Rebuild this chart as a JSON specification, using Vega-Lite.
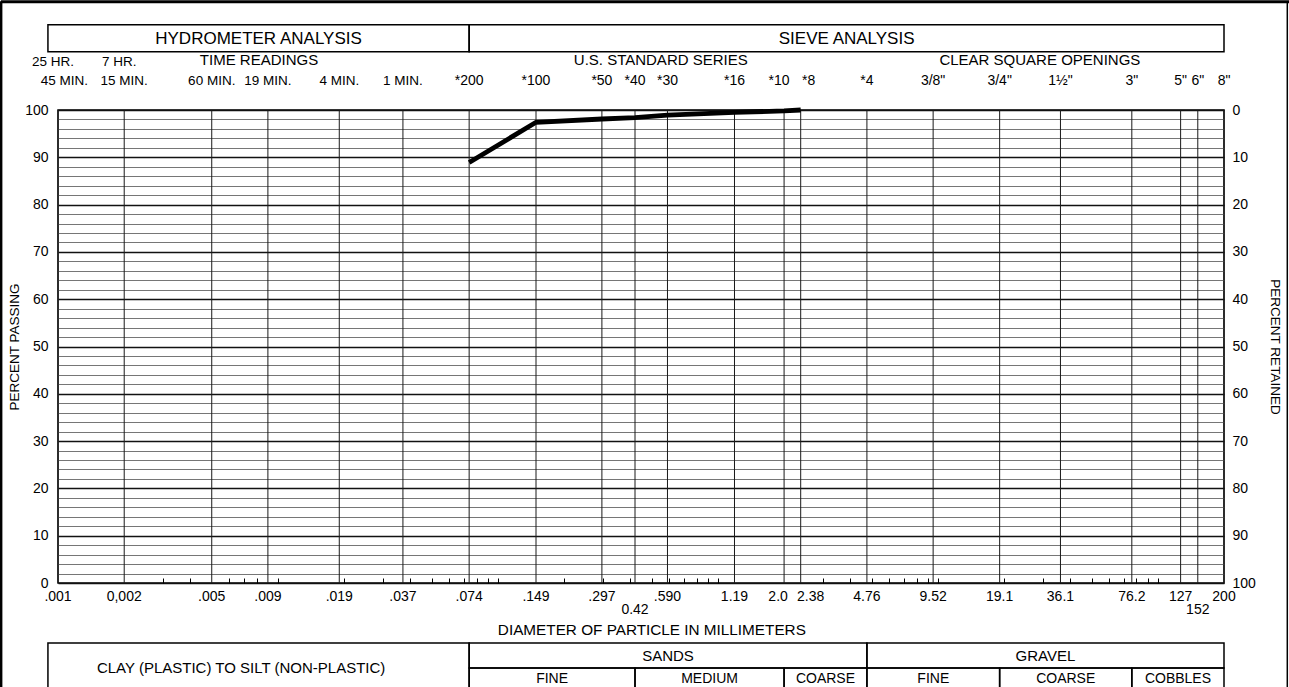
{
  "$schema": "https://vega.github.io/schema/vega-lite/v6.json",
  "width": 1166,
  "height": 473,
  "autosize": "none",
  "padding": {"left": 58, "top": 110, "right": 65, "bottom": 104},
  "background": "white",
  "config": {
    "view": {"stroke": "black", "strokeWidth": 1.5},
    "font": "Liberation Sans",
    "text": {"font": "Liberation Sans", "fontSize": 13, "color": "black", "baseline": "middle", "align": "center"}
  },
  "datasets": {
    "curve": [
      {"d": 0.074, "pct": 88.9},
      {"d": 0.149, "pct": 97.4},
      {"d": 0.297, "pct": 98.1},
      {"d": 0.42, "pct": 98.4},
      {"d": 0.59, "pct": 98.9},
      {"d": 1.19, "pct": 99.5},
      {"d": 2.0, "pct": 99.8},
      {"d": 2.38, "pct": 100}
    ],
    "sizes": [
      {"d": 0.001, "label": ".001"},
      {"d": 0.002, "label": "0,002"},
      {"d": 0.005, "label": ".005"},
      {"d": 0.009, "label": ".009"},
      {"d": 0.019, "label": ".019"},
      {"d": 0.037, "label": ".037"},
      {"d": 0.074, "label": ".074"},
      {"d": 0.149, "label": ".149"},
      {"d": 0.297, "label": ".297"},
      {"d": 0.42, "label": "0.42"},
      {"d": 0.59, "label": ".590"},
      {"d": 1.19, "label": "1.19"},
      {"d": 2.0, "label": "2.0"},
      {"d": 2.38, "label": "2.38"},
      {"d": 4.76, "label": "4.76"},
      {"d": 9.52, "label": "9.52"},
      {"d": 19.1, "label": "19.1"},
      {"d": 36.1, "label": "36.1"},
      {"d": 76.2, "label": "76.2"},
      {"d": 127, "label": "127"},
      {"d": 152, "label": "152"},
      {"d": 200, "label": "200"}
    ],
    "sieves": [
      {"d": 0.074, "label": "*200"},
      {"d": 0.149, "label": "*100"},
      {"d": 0.297, "label": "*50"},
      {"d": 0.42, "label": "*40"},
      {"d": 0.59, "label": "*30"},
      {"d": 1.19, "label": "*16"},
      {"d": 2.0, "label": "*10"},
      {"d": 2.38, "label": "*8"},
      {"d": 4.76, "label": "*4"},
      {"d": 9.52, "label": "3/8\""},
      {"d": 19.1, "label": "3/4\""},
      {"d": 36.1, "label": "1½\""},
      {"d": 76.2, "label": "3\""},
      {"d": 127, "label": "5\""},
      {"d": 152, "label": "6\""},
      {"d": 200, "label": "8\""}
    ],
    "times1": [
      {"d": 0.001, "label": "25 HR."},
      {"d": 0.002, "label": "7 HR."}
    ],
    "times2": [
      {"d": 0.00107, "label": "45 MIN."},
      {"d": 0.002, "label": "15 MIN."},
      {"d": 0.005, "label": "60 MIN."},
      {"d": 0.009, "label": "19 MIN."},
      {"d": 0.019, "label": "4 MIN."},
      {"d": 0.037, "label": "1 MIN."}
    ],
    "series": [
      {"mid": 0.0082, "label": "TIME READINGS"},
      {"mid": 0.55, "label": "U.S. STANDARD SERIES"},
      {"mid": 29.1, "label": "CLEAR SQUARE OPENINGS"}
    ],
    "header": [
      {"lo": 0.0009, "hi": 0.074, "mid": 0.00816, "label": "HYDROMETER ANALYSIS"},
      {"lo": 0.074, "hi": 200, "mid": 3.85, "label": "SIEVE ANALYSIS"}
    ],
    "silt": [
      {"lo": 0.0009, "hi": 0.074, "mid": 0.0068, "label": "CLAY (PLASTIC) TO SILT (NON-PLASTIC)"}
    ],
    "groups": [
      {"lo": 0.074, "hi": 4.76, "mid": 0.5935, "label": "SANDS"},
      {"lo": 4.76, "hi": 200, "mid": 30.85, "label": "GRAVEL"}
    ],
    "subgroups": [
      {"lo": 0.074, "hi": 0.42, "mid": 0.1763, "label": "FINE"},
      {"lo": 0.42, "hi": 2.0, "mid": 0.9165, "label": "MEDIUM"},
      {"lo": 2.0, "hi": 4.76, "mid": 3.085, "label": "COARSE"},
      {"lo": 4.76, "hi": 19.1, "mid": 9.535, "label": "FINE"},
      {"lo": 19.1, "hi": 76.2, "mid": 38.15, "label": "COARSE"},
      {"lo": 76.2, "hi": 200, "mid": 123.5, "label": "COBBLES"}
    ],
    "xtitle": [
      {"mid": 0.501, "label": "DIAMETER OF PARTICLE IN MILLIMETERS"}
    ]
  },
  "layer": [
    {
      "resolve": {"axis": {"x": "independent", "y": "independent"}},
      "layer": [
        {
          "data": {"name": "sizes"},
          "mark": {"type": "rule", "color": "#1a1a1a", "strokeWidth": 1},
          "encoding": {
            "x": {"field": "d", "type": "quantitative", "scale": {"type": "log", "domain": [0.001, 200], "nice": false},
              "axis": {"values": [0.003,0.004,0.006,0.007,0.008,0.01,0.02,0.03,0.04,0.05,0.06,0.07,0.08,0.09,0.1,0.2,0.3,0.4,0.5,0.6,0.7,0.8,0.9,1,3,4,5,6,7,8,9,10,20,30,40,50,60,70,80,90,100],
                "labels": false, "domain": false, "grid": false, "ticks": true, "tickSize": 5, "tickColor": "black", "tickWidth": 1, "offset": -5, "title": null}},
            "y": {"datum": 0, "type": "quantitative", "scale": {"domain": [0, 100], "nice": false}, "axis": null},
            "y2": {"datum": 100}
          }
        },
        {
          "data": {"name": "curve"},
          "mark": {"type": "line", "color": "black", "strokeWidth": 4.8, "strokeJoin": "miter"},
          "encoding": {
            "x": {"field": "d", "type": "quantitative", "scale": {"type": "log", "domain": [0.001, 200], "nice": false}, "axis": null},
            "y": {"field": "pct", "type": "quantitative", "scale": {"domain": [0, 100], "nice": false},
              "axis": {"orient": "left", "values": [0,2,4,6,8,10,12,14,16,18,20,22,24,26,28,30,32,34,36,38,40,42,44,46,48,50,52,54,56,58,60,62,64,66,68,70,72,74,76,78,80,82,84,86,88,90,92,94,96,98,100],
                "labelExpr": "datum.value % 10 === 0 ? datum.label : ''",
                "ticks": false, "domain": false, "grid": true,
                "gridColor": {"condition": {"test": "datum.value % 10 === 0", "value": "#111111"}, "value": "#666666"},
                "gridWidth": {"condition": {"test": "datum.value % 10 === 0", "value": 1.3}, "value": 0.9},
                "labelPadding": 10, "labelFontSize": 14, "labelFont": "Liberation Sans", "labelColor": "black",
                "title": "PERCENT PASSING", "titleFont": "Liberation Sans", "titleFontSize": 13.5, "titleFontWeight": "normal", "titleColor": "black", "titlePadding": 3}}
          }
        },
        {
          "data": {"name": "sizes"},
          "transform": [{"filter": "datum.d != 0.42 && datum.d != 152 && datum.d != 2 && datum.d != 2.38"}],
          "mark": {"type": "text", "fontSize": 14},
          "encoding": {
            "x": {"field": "d", "type": "quantitative", "scale": {"type": "log", "domain": [0.001, 200], "nice": false}, "axis": null},
            "y": {"datum": -2.96, "type": "quantitative", "scale": {"domain": [0, 100], "nice": false}, "axis": null},
            "text": {"field": "label"}
          }
        },
        {
          "data": {"name": "sizes"},
          "transform": [{"filter": "datum.d == 2"}],
          "mark": {"type": "text", "fontSize": 14, "dx": -6},
          "encoding": {
            "x": {"field": "d", "type": "quantitative", "scale": {"type": "log", "domain": [0.001, 200], "nice": false}, "axis": null},
            "y": {"datum": -2.96, "type": "quantitative", "scale": {"domain": [0, 100], "nice": false}, "axis": null},
            "text": {"field": "label"}
          }
        },
        {
          "data": {"name": "sizes"},
          "transform": [{"filter": "datum.d == 2.38"}],
          "mark": {"type": "text", "fontSize": 14, "dx": 10},
          "encoding": {
            "x": {"field": "d", "type": "quantitative", "scale": {"type": "log", "domain": [0.001, 200], "nice": false}, "axis": null},
            "y": {"datum": -2.96, "type": "quantitative", "scale": {"domain": [0, 100], "nice": false}, "axis": null},
            "text": {"field": "label"}
          }
        },
        {
          "data": {"name": "sizes"},
          "transform": [{"filter": "datum.d == 0.42 || datum.d == 152"}],
          "mark": {"type": "text", "fontSize": 14},
          "encoding": {
            "x": {"field": "d", "type": "quantitative", "scale": {"type": "log", "domain": [0.001, 200], "nice": false}, "axis": null},
            "y": {"datum": -5.8, "type": "quantitative", "scale": {"domain": [0, 100], "nice": false}, "axis": null},
            "text": {"field": "label"}
          }
        },
        {
          "data": {"name": "sieves"},
          "transform": [{"filter": "datum.d != 2 && datum.d != 2.38"}],
          "mark": {"type": "text", "fontSize": 14},
          "encoding": {
            "x": {"field": "d", "type": "quantitative", "scale": {"type": "log", "domain": [0.001, 200], "nice": false}, "axis": null},
            "y": {"datum": 106.1, "type": "quantitative", "scale": {"domain": [0, 100], "nice": false}, "axis": null},
            "text": {"field": "label"}
          }
        },
        {
          "data": {"name": "sieves"},
          "transform": [{"filter": "datum.d == 2"}],
          "mark": {"type": "text", "fontSize": 14, "dx": -5},
          "encoding": {
            "x": {"field": "d", "type": "quantitative", "scale": {"type": "log", "domain": [0.001, 200], "nice": false}, "axis": null},
            "y": {"datum": 106.1, "type": "quantitative", "scale": {"domain": [0, 100], "nice": false}, "axis": null},
            "text": {"field": "label"}
          }
        },
        {
          "data": {"name": "sieves"},
          "transform": [{"filter": "datum.d == 2.38"}],
          "mark": {"type": "text", "fontSize": 14, "dx": 8},
          "encoding": {
            "x": {"field": "d", "type": "quantitative", "scale": {"type": "log", "domain": [0.001, 200], "nice": false}, "axis": null},
            "y": {"datum": 106.1, "type": "quantitative", "scale": {"domain": [0, 100], "nice": false}, "axis": null},
            "text": {"field": "label"}
          }
        },
        {
          "data": {"name": "times1"},
          "mark": {"type": "text", "fontSize": 13.5, "dx": -5},
          "encoding": {
            "x": {"field": "d", "type": "quantitative", "scale": {"type": "log", "domain": [0.001, 200], "nice": false}, "axis": null},
            "y": {"datum": 110.2, "type": "quantitative", "scale": {"domain": [0, 100], "nice": false}, "axis": null},
            "text": {"field": "label"}
          }
        },
        {
          "data": {"name": "times2"},
          "mark": {"type": "text", "fontSize": 13.5},
          "encoding": {
            "x": {"field": "d", "type": "quantitative", "scale": {"type": "log", "domain": [0.001, 200], "nice": false}, "axis": null},
            "y": {"datum": 106.1, "type": "quantitative", "scale": {"domain": [0, 100], "nice": false}, "axis": null},
            "text": {"field": "label"}
          }
        },
        {
          "data": {"name": "series"},
          "mark": {"type": "text", "fontSize": 15},
          "encoding": {
            "x": {"field": "mid", "type": "quantitative", "scale": {"type": "log", "domain": [0.001, 200], "nice": false}, "axis": null},
            "y": {"datum": 110.6, "type": "quantitative", "scale": {"domain": [0, 100], "nice": false}, "axis": null},
            "text": {"field": "label"}
          }
        },
        {
          "data": {"name": "header"},
          "mark": {"type": "rect", "fill": null, "fillOpacity": 0, "stroke": "black", "strokeWidth": 1.5},
          "encoding": {
            "x": {"field": "lo", "type": "quantitative", "scale": {"type": "log", "domain": [0.001, 200], "nice": false}, "axis": null},
            "x2": {"field": "hi"},
            "y": {"datum": 112.3, "type": "quantitative", "scale": {"domain": [0, 100], "nice": false}, "axis": null},
            "y2": {"datum": 118.0}
          }
        },
        {
          "data": {"name": "header"},
          "mark": {"type": "text", "fontSize": 17},
          "encoding": {
            "x": {"field": "mid", "type": "quantitative", "scale": {"type": "log", "domain": [0.001, 200], "nice": false}, "axis": null},
            "y": {"datum": 115.1, "type": "quantitative", "scale": {"domain": [0, 100], "nice": false}, "axis": null},
            "text": {"field": "label"}
          }
        },
        {
          "data": {"name": "xtitle"},
          "mark": {"type": "text", "fontSize": 15.3},
          "encoding": {
            "x": {"field": "mid", "type": "quantitative", "scale": {"type": "log", "domain": [0.001, 200], "nice": false}, "axis": null},
            "y": {"datum": -9.94, "type": "quantitative", "scale": {"domain": [0, 100], "nice": false}, "axis": null},
            "text": {"field": "label"}
          }
        },
        {
          "data": {"name": "silt"},
          "mark": {"type": "rect", "fill": null, "fillOpacity": 0, "stroke": "black", "strokeWidth": 1.5},
          "encoding": {
            "x": {"field": "lo", "type": "quantitative", "scale": {"type": "log", "domain": [0.001, 200], "nice": false}, "axis": null},
            "x2": {"field": "hi"},
            "y": {"datum": -12.68, "type": "quantitative", "scale": {"domain": [0, 100], "nice": false}, "axis": null},
            "y2": {"datum": -26}
          }
        },
        {
          "data": {"name": "silt"},
          "mark": {"type": "text", "fontSize": 15},
          "encoding": {
            "x": {"field": "mid", "type": "quantitative", "scale": {"type": "log", "domain": [0.001, 200], "nice": false}, "axis": null},
            "y": {"datum": -18.0, "type": "quantitative", "scale": {"domain": [0, 100], "nice": false}, "axis": null},
            "text": {"field": "label"}
          }
        },
        {
          "data": {"name": "groups"},
          "mark": {"type": "rect", "fill": null, "fillOpacity": 0, "stroke": "black", "strokeWidth": 1.5},
          "encoding": {
            "x": {"field": "lo", "type": "quantitative", "scale": {"type": "log", "domain": [0.001, 200], "nice": false}, "axis": null},
            "x2": {"field": "hi"},
            "y": {"datum": -12.68, "type": "quantitative", "scale": {"domain": [0, 100], "nice": false}, "axis": null},
            "y2": {"datum": -17.97}
          }
        },
        {
          "data": {"name": "groups"},
          "mark": {"type": "text", "fontSize": 15},
          "encoding": {
            "x": {"field": "mid", "type": "quantitative", "scale": {"type": "log", "domain": [0.001, 200], "nice": false}, "axis": null},
            "y": {"datum": -15.4, "type": "quantitative", "scale": {"domain": [0, 100], "nice": false}, "axis": null},
            "text": {"field": "label"}
          }
        },
        {
          "data": {"name": "subgroups"},
          "mark": {"type": "rect", "fill": null, "fillOpacity": 0, "stroke": "black", "strokeWidth": 1.5},
          "encoding": {
            "x": {"field": "lo", "type": "quantitative", "scale": {"type": "log", "domain": [0.001, 200], "nice": false}, "axis": null},
            "x2": {"field": "hi"},
            "y": {"datum": -17.97, "type": "quantitative", "scale": {"domain": [0, 100], "nice": false}, "axis": null},
            "y2": {"datum": -26}
          }
        },
        {
          "data": {"name": "subgroups"},
          "mark": {"type": "text", "fontSize": 14},
          "encoding": {
            "x": {"field": "mid", "type": "quantitative", "scale": {"type": "log", "domain": [0.001, 200], "nice": false}, "axis": null},
            "y": {"datum": -20.2, "type": "quantitative", "scale": {"domain": [0, 100], "nice": false}, "axis": null},
            "text": {"field": "label"}
          }
        },
        {
          "data": {"values": [{}]},
          "mark": {"type": "rule", "color": "black", "strokeWidth": 3},
          "encoding": {
            "x": {"datum": 0.00055, "type": "quantitative", "scale": {"type": "log", "domain": [0.001, 200], "nice": false}, "axis": null},
            "y": {"datum": -26, "type": "quantitative", "scale": {"domain": [0, 100], "nice": false}, "axis": null},
            "y2": {"datum": 123}
          }
        },
        {
          "data": {"values": [{}]},
          "mark": {"type": "rule", "color": "black", "strokeWidth": 3},
          "encoding": {
            "x": {"datum": 0.00055, "type": "quantitative", "scale": {"type": "log", "domain": [0.001, 200], "nice": false}, "axis": null},
            "x2": {"datum": 400},
            "y": {"datum": 122.9, "type": "quantitative", "scale": {"domain": [0, 100], "nice": false}, "axis": null}
          }
        },
        {
          "data": {"values": [{}]},
          "mark": {"type": "rule", "color": "black", "strokeWidth": 1.5},
          "encoding": {
            "x": {"datum": 388, "type": "quantitative", "scale": {"type": "log", "domain": [0.001, 200], "nice": false}, "axis": null},
            "y": {"datum": -26, "type": "quantitative", "scale": {"domain": [0, 100], "nice": false}, "axis": null},
            "y2": {"datum": 123}
          }
        }
      ]
    },
    {
      "data": {"values": [{"r": 0}, {"r": 100}]},
      "mark": {"type": "rule", "opacity": 0},
      "encoding": {
        "y": {"field": "r", "type": "quantitative", "scale": {"domain": [0, 100], "reverse": true, "nice": false},
          "axis": {"orient": "right", "values": [0,10,20,30,40,50,60,70,80,90,100], "grid": false, "ticks": false, "domain": false,
            "labelPadding": 8, "labelFontSize": 14, "labelFont": "Liberation Sans", "labelColor": "black",
            "title": "PERCENT RETAINED", "titleFont": "Liberation Sans", "titleFontSize": 13.5, "titleFontWeight": "normal", "titleColor": "black", "titlePadding": 12}}
      }
    }
  ],
  "resolve": {"scale": {"y": "independent"}}
}
